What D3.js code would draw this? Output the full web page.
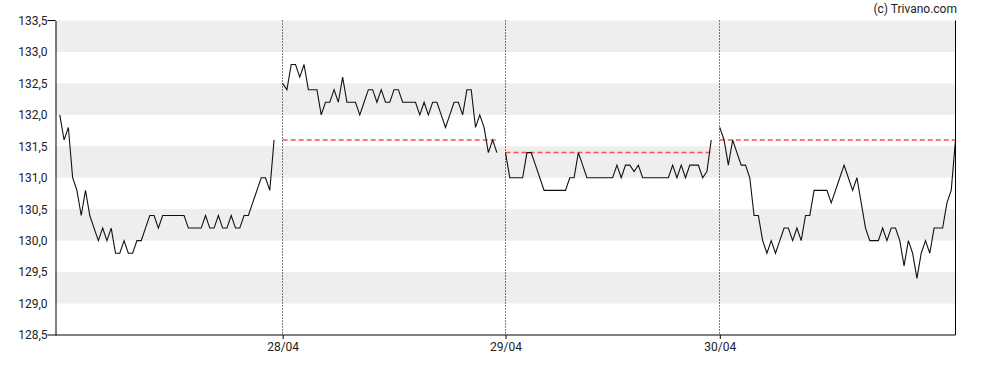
<!DOCTYPE html>
<html>
<head>
<meta charset="utf-8">
<script src="https://cdn.jsdelivr.net/npm/d3@7"></script>
<style>
  body { margin: 0; background: #fff; }
  svg text { font-family: Roboto, "Open Sans", sans-serif; font-size: 12px; fill: #222; }
</style>
</head>
<body>
<div id="chart"></div>
<script>
// Price data, one array per trading day (10 min steps)
const dayLabels = ["27/04", "28/04", "29/04", "30/04"];

const day1 = [132.0, 131.6, 131.8, 131.0, 130.8, 130.4, 130.8, 130.4, 130.2, 130.0,
  130.2, 130.0, 130.2, 129.8, 129.8, 130.0, 129.8, 129.8, 130.0, 130.0,
  130.2, 130.4, 130.4, 130.2, 130.4, 130.4, 130.4, 130.4, 130.4, 130.4,
  130.2, 130.2, 130.2, 130.2, 130.4, 130.2, 130.2, 130.4, 130.2, 130.2,
  130.4, 130.2, 130.2, 130.4, 130.4, 130.6, 130.8, 131.0, 131.0, 130.8,
  131.6];

const day2 = [132.5, 132.4, 132.8, 132.8, 132.6, 132.8, 132.4, 132.4, 132.4, 132.0,
  132.2, 132.2, 132.4, 132.2, 132.6, 132.2, 132.2, 132.2, 132.0, 132.2,
  132.4, 132.4, 132.2, 132.4, 132.2, 132.2, 132.4, 132.4, 132.2, 132.2,
  132.2, 132.2, 132.0, 132.2, 132.0, 132.2, 132.2, 132.0, 131.8, 132.0,
  132.2, 132.2, 132.0, 132.4, 132.4, 131.8, 132.0, 131.8, 131.4, 131.6,
  131.4];

const day3 = [131.4, 131.0, 131.0, 131.0, 131.0, 131.4, 131.4, 131.2, 131.0, 130.8,
  130.8, 130.8, 130.8, 130.8, 130.8, 131.0, 131.0, 131.4, 131.2, 131.0,
  131.0, 131.0, 131.0, 131.0, 131.0, 131.0, 131.2, 131.0, 131.2, 131.2,
  131.1, 131.2, 131.0, 131.0, 131.0, 131.0, 131.0, 131.0, 131.0, 131.2,
  131.0, 131.2, 131.0, 131.2, 131.2, 131.2, 131.0, 131.1, 131.6];

const day4 = [131.8, 131.6, 131.2, 131.6, 131.4, 131.2, 131.2, 131.0, 130.4, 130.4,
  130.0, 129.8, 130.0, 129.8, 130.0, 130.2, 130.2, 130.0, 130.2, 130.0,
  130.4, 130.4, 130.8, 130.8, 130.8, 130.8, 130.6, 130.8, 131.0, 131.2,
  131.0, 130.8, 131.0, 130.6, 130.2, 130.0, 130.0, 130.0, 130.2, 130.0,
  130.2, 130.2, 130.0, 129.6, 130.0, 129.8, 129.4, 129.8, 130.0, 129.8,
  130.2, 130.2, 130.2, 130.6, 130.8, 131.6];

// previous close shown as red dashed line (null = not shown)
const prevClose = [null, 131.6, 131.4, 131.6];

const yTicks = [128.5, 129.0, 129.5, 130.0, 130.5, 131.0, 131.5, 132.0, 132.5, 133.0, 133.5];

const days = [day1, day2, day3, day4];

// Set up dimensions
const W = 988, H = 370;
const margin = { top: 20.5, right: 32.5, bottom: 35, left: 55.5 };

// index every point, leaving one empty slot between days
let start = 0;
const series = days.map((vals, k) => {
  const pts = vals.map((v, i) => ({ i: start + i, v: v }));
  const s = { label: dayLabels[k], start: start, end: start + vals.length - 1, pts: pts, prev: prevClose[k] };
  start += vals.length + 1;
  return s;
});
const lastIdx = series[series.length - 1].end;

const x = d3.scaleLinear()
  .domain([-1, lastIdx])
  .range([margin.left, W - margin.right]);

const y = d3.scaleLinear()
  .domain([128.5, 133.5])
  .range([H - margin.bottom, margin.top]);

const svg = d3.select("#chart").append("svg")
  .attr("width", W)
  .attr("height", H);

// alternating background bands
const bands = d3.pairs(yTicks).filter((p, i) => i % 2 === 1);
svg.selectAll("rect.band")
  .data(bands)
  .enter().append("rect")
  .attr("class", "band")
  .attr("x", margin.left)
  .attr("width", W - margin.right - margin.left)
  .attr("y", d => y(d[1]))
  .attr("height", d => y(d[0]) - y(d[1]))
  .attr("fill", "#eeeeee");

// dotted day separators
const dayStarts = series.slice(1);
svg.selectAll("line.sep")
  .data(dayStarts)
  .enter().append("line")
  .attr("class", "sep")
  .attr("x1", d => Math.round(x(d.start)) - 0.5)
  .attr("x2", d => Math.round(x(d.start)) - 0.5)
  .attr("y1", margin.top)
  .attr("y2", H - margin.bottom)
  .attr("stroke", "#000")
  .attr("stroke-dasharray", "1,2");

// previous close lines
svg.selectAll("line.prev")
  .data(series.filter(d => d.prev !== null))
  .enter().append("line")
  .attr("class", "prev")
  .attr("x1", d => x(d.start))
  .attr("x2", d => x(d.end))
  .attr("y1", d => y(d.prev))
  .attr("y2", d => y(d.prev))
  .attr("stroke", "#ff3b3b")
  .attr("stroke-opacity", 0.9)
  .attr("stroke-width", 1.5)
  .attr("stroke-dasharray", "5,3");

// price lines
const line = d3.line()
  .x(d => x(d.i))
  .y(d => y(d.v));

svg.selectAll("path.price")
  .data(series)
  .enter().append("path")
  .attr("class", "price")
  .attr("d", d => line(d.pts))
  .attr("fill", "none")
  .attr("stroke", "#111")
  .attr("stroke-width", 1.1);

// y axis
const yAxis = svg.append("g")
  .attr("transform", `translate(${margin.left},0)`)
  .call(d3.axisLeft(y)
    .tickValues(yTicks)
    .tickSize(0)
    .tickPadding(8)
    .tickFormat(d => d3.format(".1f")(d).replace(".", ",")));
yAxis.select(".domain").attr("stroke", "#000");
yAxis.selectAll("text").style("font-size", "12px").attr("fill", "#222");

// short tick at the top
svg.append("line")
  .attr("x1", margin.left - 8).attr("x2", margin.left)
  .attr("y1", y(133.5)).attr("y2", y(133.5))
  .attr("stroke", "#000");

// x axis
const xAxis = svg.append("g")
  .attr("transform", `translate(0,${H - margin.bottom})`)
  .call(d3.axisBottom(x)
    .tickValues(dayStarts.map(d => d.start))
    .tickSize(4)
    .tickPadding(3)
    .tickFormat((d, i) => dayStarts[i].label));
xAxis.select(".domain").remove();
xAxis.selectAll("text").style("font-size", "12px").attr("fill", "#222");
svg.append("line")
  .attr("x1", margin.left - 8).attr("x2", W - margin.right)
  .attr("y1", H - margin.bottom).attr("y2", H - margin.bottom)
  .attr("stroke", "#000");

// right border
svg.append("line")
  .attr("x1", W - margin.right).attr("x2", W - margin.right)
  .attr("y1", margin.top).attr("y2", H - margin.bottom)
  .attr("stroke", "#000");

// credit
svg.append("text")
  .attr("x", W - 31)
  .attr("y", 13)
  .attr("text-anchor", "end")
  .text("(c) Trivano.com");
</script>
</body>
</html>
